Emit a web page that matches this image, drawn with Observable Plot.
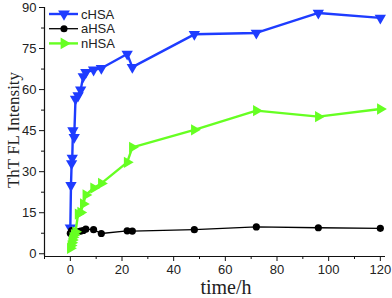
<!DOCTYPE html>
<html><head><meta charset="utf-8">
<script src="https://cdn.jsdelivr.net/npm/d3@7"></script>
<script src="https://cdn.jsdelivr.net/npm/@observablehq/plot@0.6"></script>
<style>body{margin:0;background:#fff}</style>
</head><body><div id="chart"></div>
<script>
const seriesNames = ["cHSA", "aHSA", "nHSA"];
const seriesColors = ["#1e3cff", "#000000", "#66ff22"];

const cTime = [0, 0.25, 0.5, 0.75, 1, 1.5, 2, 3, 4, 5, 6, 9, 12, 22, 24, 48, 72, 96, 120];
const cValue = [9.5, 25, 33, 35, 45, 42.6, 56.6, 57.8, 59.9, 64.8, 66.3, 67.2, 67.8, 73, 68.2, 80.2, 80.7, 88, 86.2];

const aTime = [0, 0.5, 1, 2, 3, 4, 5, 6, 9, 12, 22, 24, 48, 72, 96, 120];
const aValue = [7.5, 8.5, 7.6, 7.8, 8, 8.3, 8.5, 9, 8.8, 7.4, 8.4, 8.3, 8.8, 9.8, 9.5, 9.3];

const nTime = [0, 0.25, 0.5, 0.75, 1, 1.5, 2, 3, 4, 5, 6, 9, 12, 22, 24, 48, 72, 96, 120];
const nValue = [2, 3, 4, 5, 6, 7, 8, 14.5, 15.1, 18.2, 21.5, 24, 25.7, 33.4, 38.9, 45.3, 52.3, 50.1, 52.9];

const xTicks = [0, 20, 40, 60, 80, 100, 120];
const xMinor = [-10, 10, 30, 50, 70, 90, 110];
const yTicks = [0, 15, 30, 45, 60, 75, 90];
const yMinor = [7.5, 22.5, 37.5, 52.5, 67.5, 82.5];
const xDomain = [-10, 122];
const yDomain = [-1, 90];

const cData = cTime.map((t, i) => ({t, v: cValue[i]}));
const aData = aTime.map((t, i) => ({t, v: aValue[i]}));
const nData = nTime.map((t, i) => ({t, v: nValue[i]}));

const plot = Plot.plot({
  width: 392, height: 298,
  marginLeft: 44, marginRight: 7, marginTop: 7, marginBottom: 42,
  x: {domain: xDomain},
  y: {domain: yDomain},
  style: {fontFamily: "'Liberation Sans', Arial, sans-serif", fontSize: "13px", color: "#222", background: "#fff"},
  marks: [
    Plot.ruleX([xDomain[0]], {stroke: "#111", strokeWidth: 1.2}),
    Plot.ruleY([yDomain[0]], {stroke: "#111", strokeWidth: 1.2}),
    Plot.axisX({ticks: xTicks, tickSize: 5, tickPadding: 3, label: null, fontSize: 13, stroke: "#111"}),
    Plot.axisX({ticks: xMinor, tickSize: 3, text: null, label: null, stroke: "#111"}),
    Plot.axisY({ticks: yTicks, tickSize: 5, tickPadding: 3, label: null, fontSize: 13, stroke: "#111"}),
    Plot.axisY({ticks: yMinor, tickSize: 3, text: null, label: null, stroke: "#111"}),
    Plot.line(cData, {x: "t", y: "v", stroke: seriesColors[0], strokeWidth: 2.4}),
    Plot.dot(cData, {x: "t", y: "v", symbol: "triangle", rotate: 180, r: 4.2, fill: seriesColors[0]}),
    Plot.line(aData, {x: "t", y: "v", stroke: seriesColors[1], strokeWidth: 1.3}),
    Plot.dot(aData, {x: "t", y: "v", r: 3.6, fill: seriesColors[1]}),
    Plot.line(nData, {x: "t", y: "v", stroke: seriesColors[2], strokeWidth: 2.4}),
    Plot.dot(nData, {x: "t", y: "v", symbol: "triangle", rotate: 90, r: 4.2, fill: seriesColors[2]})
  ]
});
document.getElementById("chart").appendChild(plot);

const svg = d3.select(plot);
// axis titles
svg.append("text").attr("transform", "translate(19,130) rotate(-90)")
  .attr("text-anchor", "middle").attr("font-family", "'Liberation Serif', 'Times New Roman', serif")
  .attr("font-size", 17).attr("fill", "#222").text("ThT FL Intensity");
svg.append("text").attr("x", 226).attr("y", 294)
  .attr("text-anchor", "middle").attr("font-family", "'Liberation Serif', 'Times New Roman', serif")
  .attr("font-size", 20).attr("fill", "#222").text("time/h");

// legend
const sym = [d3.symbol(d3.symbolTriangle, 60), d3.symbol(d3.symbolCircle, 40), d3.symbol(d3.symbolTriangle, 60)];
const rot = [180, 0, 90];
seriesNames.forEach((name, i) => {
  const y = 14 + i * 14.7;
  const g = svg.append("g");
  g.append("line").attr("x1", 49).attr("x2", 78).attr("y1", y).attr("y2", y)
    .attr("stroke", seriesColors[i]).attr("stroke-width", i === 1 ? 1.3 : 2.4);
  g.append("path").attr("d", sym[i]()).attr("transform", `translate(64,${y}) rotate(${rot[i]})`).attr("fill", seriesColors[i]);
  g.append("text").attr("x", 81).attr("y", y).attr("dy", "0.36em").attr("text-anchor", "start")
    .attr("font-family", "'Liberation Sans', Arial, sans-serif").attr("font-size", 13).attr("fill", "#222").text(name);
});
</script>
</body></html>
